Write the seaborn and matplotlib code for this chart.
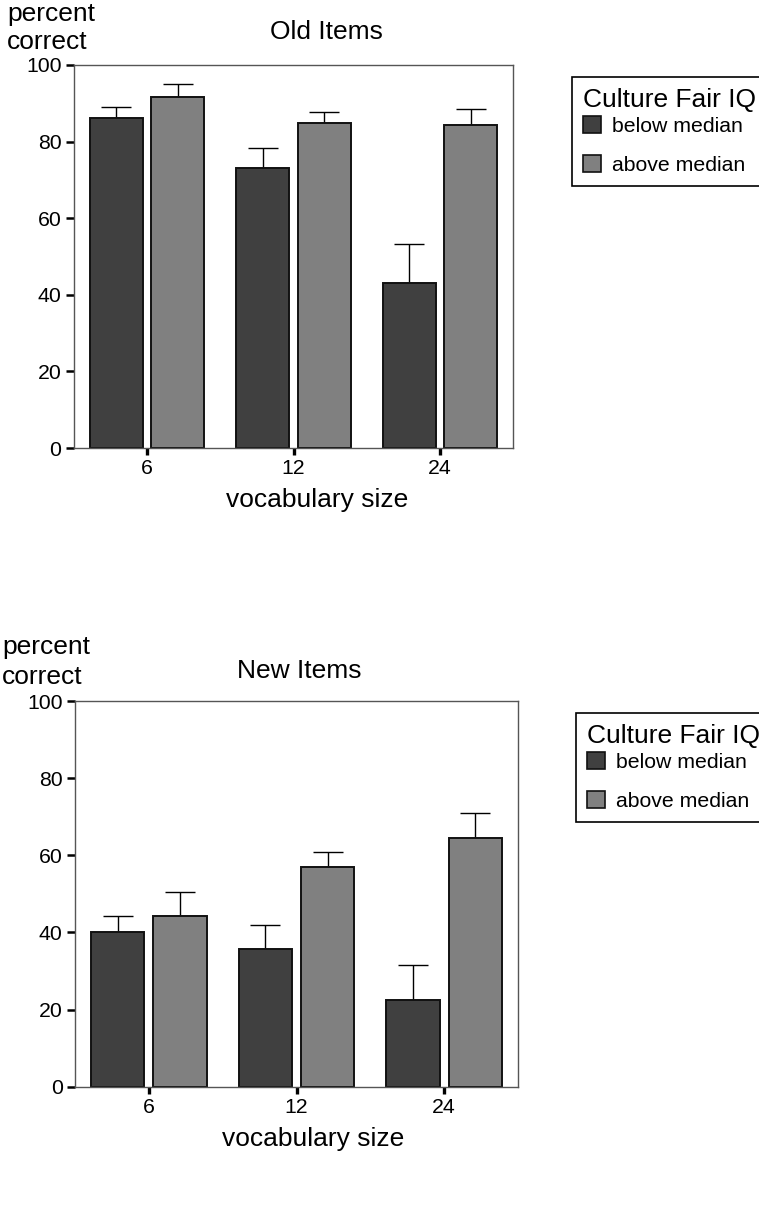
import numpy as np
import pandas as pd
import matplotlib
matplotlib.use("Agg")
import matplotlib.pyplot as plt
import matplotlib.patches as mpatches
import seaborn as sns

# ---- data ----
vocab_sizes = ["6", "12", "24"]
iq_groups = ["below median", "above median"]

old_below = [86.1, 73.2, 43.0]
old_below_err = [3.0, 5.2, 10.3]
old_above = [91.6, 84.9, 84.3]
old_above_err = [3.4, 2.8, 4.2]

new_below = [40.2, 35.7, 22.6]
new_below_err = [4.1, 6.2, 9.0]
new_above = [44.3, 56.9, 64.6]
new_above_err = [6.3, 3.9, 6.4]

y_ticks = [0, 20, 40, 60, 80, 100]
colors = ["#404040", "#808080"]

sns.set_theme(style="white")
plt.rcParams["font.family"] = ["Liberation Sans", "DejaVu Sans"]
plt.rcParams["text.color"] = "black"
plt.rcParams["xtick.color"] = "black"
plt.rcParams["ytick.color"] = "black"
plt.rcParams["axes.labelcolor"] = "black"

W, H = 759, 1231
fig = plt.figure(figsize=(W / 100, H / 100), dpi=100)

LABEL_FS = 19
TICK_FS = 15.3


def px(x, y):
    return x / W, 1 - y / H


def make_panel(rect, below, below_err, above, above_err):
    ax = fig.add_axes(rect)
    df = pd.DataFrame({
        "vocab": vocab_sizes * 2,
        "pct": below + above,
        "err": below_err + above_err,
        "iq": [iq_groups[0]] * 3 + [iq_groups[1]] * 3,
    })
    sns.barplot(data=df, x="vocab", y="pct", hue="iq", order=vocab_sizes,
                hue_order=iq_groups, palette=colors, width=0.84, gap=0.14,
                edgecolor="#111111", linewidth=1.4, errorbar=None,
                legend=False, ax=ax, saturation=1)
    errs = [below_err, above_err]
    vals = [below, above]
    for cont, v, e in zip(ax.containers, vals, errs):
        xs = [b.get_x() + b.get_width() / 2 for b in cont]
        ax.errorbar(xs, v, yerr=[np.zeros(len(e)), e], fmt="none",
                    ecolor="black", elinewidth=1.0, capsize=10.5,
                    capthick=1.0, zorder=0.5)
    ax.set_xlim(-0.5, 2.5)
    ax.set_ylim(0, 100)
    ax.set_yticks(y_ticks)
    ax.set_xlabel("")
    ax.set_ylabel("")
    for s in ax.spines.values():
        s.set_visible(True)
        s.set_color("#555555")
        s.set_linewidth(1.0)
    ax.tick_params(axis="y", which="major", direction="out", length=6,
                   width=1.8, color="black", labelcolor="black",
                   labelsize=TICK_FS, pad=3, left=True)
    ax.tick_params(axis="x", which="major", direction="out", length=5,
                   width=2.4, color="black", labelcolor="black",
                   labelsize=TICK_FS, pad=3, bottom=True)
    return ax


def make_legend(ax, left, top):
    handles = [mpatches.Patch(facecolor=c, edgecolor="#111111", linewidth=1.2)
               for c in colors]
    bx, by = px(left, top)
    leg = ax.legend(handles, iq_groups, title="Culture Fair IQ",
                    loc="upper left", bbox_to_anchor=(bx, by),
                    bbox_transform=fig.transFigure, borderaxespad=0,
                    frameon=True, fancybox=False, framealpha=1,
                    edgecolor="black", fontsize=TICK_FS,
                    title_fontsize=LABEL_FS, alignment="left",
                    handlelength=0.85, handleheight=0.85,
                    labelspacing=0.89, handletextpad=0.55, borderpad=0.5)
    leg.get_frame().set_linewidth(1.2)
    leg._legend_box.sep = 3.5
    return leg


# ---- top panel: Old Items ----
ax1 = make_panel([74 / W, 1 - 448 / H, 439 / W, 383 / H],
                 old_below, old_below_err, old_above, old_above_err)
make_legend(ax1, 572, 77)
fig.text(*px(7, 21), "percent", fontsize=LABEL_FS, ha="left", va="baseline")
fig.text(*px(7, 49), "correct", fontsize=LABEL_FS, ha="left", va="baseline")
fig.text(*px(326, 39), "Old Items", fontsize=LABEL_FS, ha="center", va="baseline")
fig.text(*px(317, 507), "vocabulary size", fontsize=LABEL_FS, ha="center", va="baseline")

# ---- bottom panel: New Items ----
ax2 = make_panel([75 / W, 1 - 1086.7 / H, 443 / W, 385.7 / H],
                 new_below, new_below_err, new_above, new_above_err)
make_legend(ax2, 576, 713)
fig.text(*px(2, 654), "percent", fontsize=LABEL_FS, ha="left", va="baseline")
fig.text(*px(2, 684), "correct", fontsize=LABEL_FS, ha="left", va="baseline")
fig.text(*px(299, 678), "New Items", fontsize=LABEL_FS, ha="center", va="baseline")
fig.text(*px(313, 1146), "vocabulary size", fontsize=LABEL_FS, ha="center", va="baseline")

fig.savefig("out.png", dpi=100, facecolor="white")
